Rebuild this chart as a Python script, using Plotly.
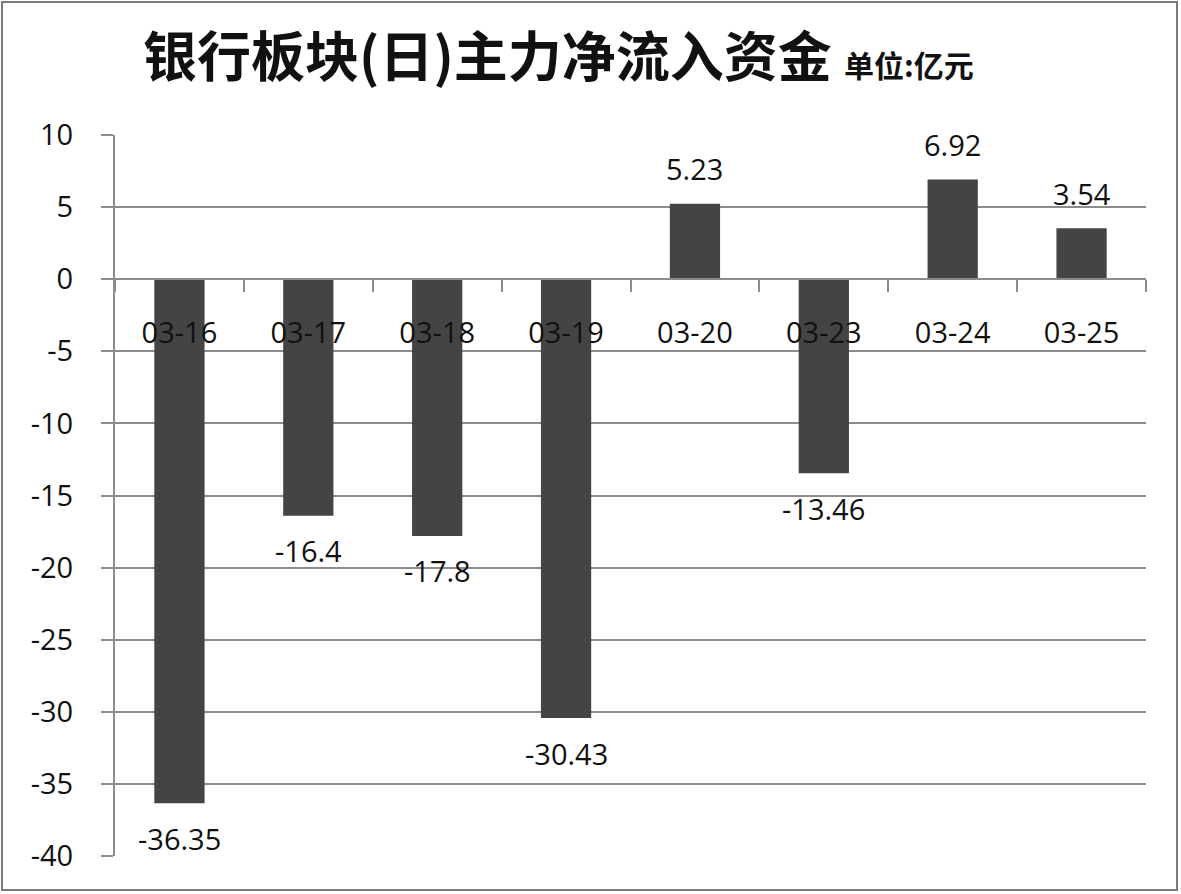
import plotly.graph_objects as go

categories = ["03-16", "03-17", "03-18", "03-19", "03-20", "03-23", "03-24", "03-25"]
values = [-36.35, -16.4, -17.8, -30.43, 5.23, -13.46, 6.92, 3.54]
value_labels = ["-36.35", "-16.4", "-17.8", "-30.43", "5.23", "-13.46", "6.92", "3.54"]
y_ticks = [10, 5, 0, -5, -10, -15, -20, -25, -30, -35, -40]
title_main = "银行板块(日)主力净流入资金"
title_unit = "单位:亿元"

W, H = 1181, 894
ML, MR, MT, MB = 115, 35, 135, 38
ymin, ymax = -40, 10
grid_col = "#8c8c8c"
font_num = "Open Sans, Liberation Sans, sans-serif"

fig = go.Figure()
fig.add_trace(go.Bar(
    x=categories, y=values,
    marker=dict(color="#444444", line=dict(width=0)),
    hoverinfo="skip",
))

for c, v, t in zip(categories, values, value_labels):
    fig.add_annotation(
        x=c, y=v, text=t, showarrow=False,
        yanchor="middle", yshift=(-35 if v < 0 else 35),
        font=dict(family=font_num, size=29, color="#111111"),
    )

zero_pos = (0 - ymin) / (ymax - ymin)

fig.update_layout(
    width=W, height=H,
    margin=dict(l=ML, r=MR, t=MT, b=MB, pad=0),
    paper_bgcolor="white", plot_bgcolor="white",
    showlegend=False,
    bargap=0.61,
    title=dict(
        text=f"<b>{title_main} </b><span style='font-size:30px'><b>{title_unit}</b></span>",
        x=143 / W, xanchor="left", xref="container",
        y=1 - 58 / H, yanchor="middle", yref="container",
        font=dict(family="Noto Sans CJK SC", size=54, color="#111111"),
    ),
    xaxis=dict(
        type="category",
        anchor="free", position=zero_pos,
        showline=True, linecolor=grid_col, linewidth=2,
        ticks="outside", tickson="boundaries", ticklen=12, tickwidth=2, tickcolor=grid_col,
        ticklabelstandoff=28,
        showgrid=False, zeroline=False,
        tickfont=dict(family=font_num, size=29, color="#111111"),
        range=[-0.5, len(categories) - 0.5],
    ),
    yaxis=dict(
        range=[ymin, ymax],
        tickvals=y_ticks,
        ticktext=[str(t) for t in y_ticks],
        showgrid=True, gridcolor=grid_col, gridwidth=2,
        zeroline=False,
        showline=True, linecolor=grid_col, linewidth=2,
        ticks="outside", ticklen=12, tickwidth=2, tickcolor=grid_col,
        ticklabelstandoff=22,
        tickfont=dict(family=font_num, size=29, color="#111111"),
    ),
    shapes=[dict(
        type="rect", xref="paper", yref="paper",
        xsizemode="pixel", ysizemode="pixel", xanchor=0, yanchor=0,
        x0=2 - ML, x1=(W - 4) - ML, y0=-(MB - 4), y1=H - MB - 2,
        line=dict(color="#7a7a7a", width=2), layer="above",
    )],
)

fig.write_html(
    "out.html",
    config={"displayModeBar": False},
    post_script="document.body.style.margin='0';document.body.style.overflow='hidden';",
)
